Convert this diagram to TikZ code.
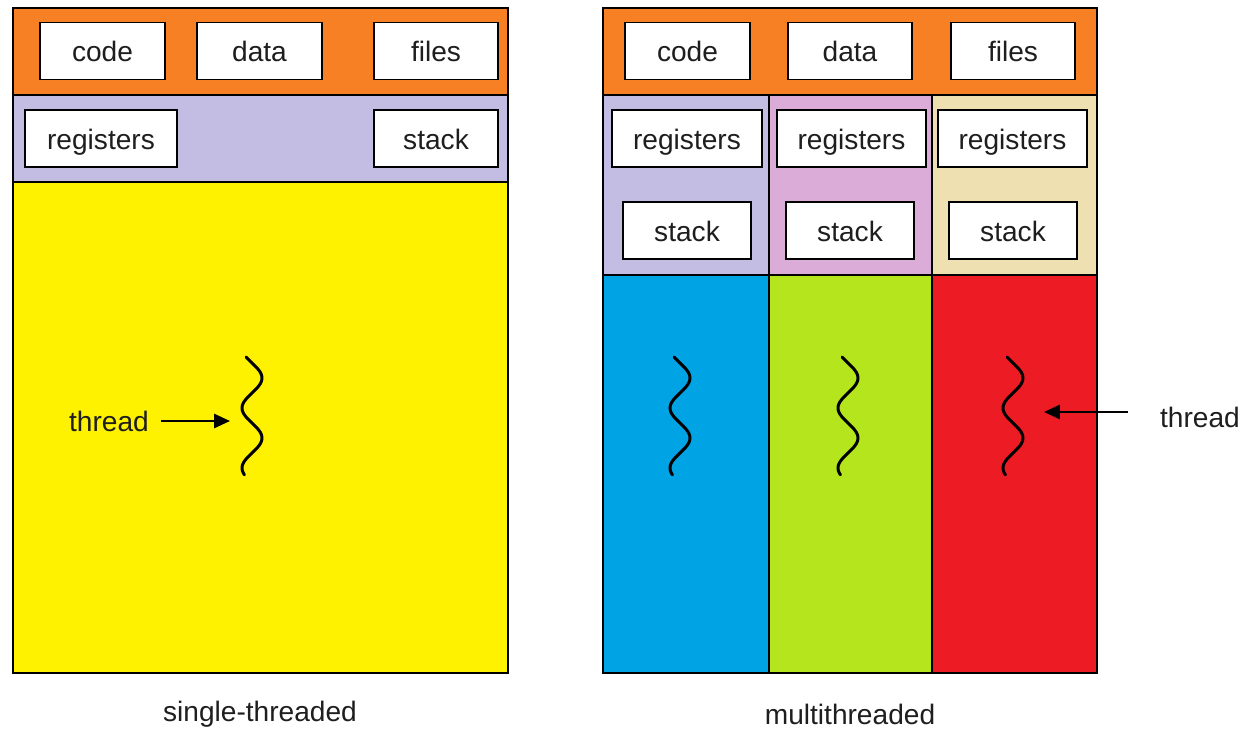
\documentclass[tikz,border=0pt]{standalone}
\usepackage{fontspec}
\setmainfont{Liberation Sans}
\usetikzlibrary{arrows.meta}
\definecolor{bandorange}{RGB}{247,128,37}
\definecolor{lavender}{RGB}{196,189,227}
\definecolor{sunyellow}{RGB}{255,242,0}
\definecolor{skyblue}{RGB}{0,163,228}
\definecolor{limegreen}{RGB}{181,230,29}
\definecolor{brightred}{RGB}{237,28,36}
\definecolor{mauve}{RGB}{220,172,216}
\definecolor{beige}{RGB}{238,224,177}
\definecolor{ink}{RGB}{30,30,30}
% squiggle of a thread: #1 = centre x, top at y = 357, length 118
\newcommand{\threadwave}[1]{%
  \draw[wave,domain=0:1.18,samples=90,variable=\t]
    plot ({#1+10*sin(600*\t-36)},{357+100*\t});}
\begin{document}
\begin{tikzpicture}[x=0.02cm,y=-0.02cm,
  region/.style={draw=black,line width=0.8pt},
  cell/.style={draw=black,fill=white,line width=1.1pt,inner sep=0pt,
    minimum height=57*0.02cm,minimum width=#1*0.02cm,
    text height=12pt,text depth=0pt,
    text=ink,font=\fontsize{16}{19}\selectfont},
  cell/.default=125,
  caption/.style={inner sep=0pt,text=ink,font=\fontsize{16}{19}\selectfont},
  wave/.style={line width=1.7pt,black,line cap=round,line join=round},
  pointer/.style={line width=1.3pt,-{Triangle[length=9pt,width=8pt]}}]
\useasboundingbox (0,0) rectangle (1248,731);

% ---------- single-threaded process ----------
\path[region,fill=bandorange] (13,8) rectangle (508,95);
\path[region,fill=lavender] (13,95) rectangle (508,182);
\path[region,fill=sunyellow] (13,182) rectangle (508,673);

\node[cell=125] (scode) at (102.5,51) {code};
\node[cell=125] (sdata) at (259.5,51) {data};
\node[cell=124] (sfiles) at (436,51) {files};
\node[cell=152] (sregs) at (101,138.5) {registers};
\node[cell=124] (sstack) at (436,138.5) {stack};

\threadwave{252}
\node[caption] (sthread) at (109,421) {thread};
\coordinate (swave) at (230,421);
\draw[pointer,shorten <=0.24cm] (sthread.east) -- (swave);

\node[caption] (slabel) at (260,714) {single-threaded};

% ---------- multithreaded process ----------
\path[region,fill=bandorange] (603,8) rectangle (1097,95);
\path[region,fill=lavender] (603,95) rectangle (769,275);
\path[region,fill=mauve] (769,95) rectangle (932,275);
\path[region,fill=beige] (932,95) rectangle (1097,275);
\path[region,fill=skyblue] (603,275) rectangle (769,673);
\path[region,fill=limegreen] (769,275) rectangle (932,673);
\path[region,fill=brightred] (932,275) rectangle (1097,673);

\node[cell=125] (mcode) at (687.5,51) {code};
\node[cell=124] (mdata) at (850,51) {data};
\node[cell=124] (mfiles) at (1013,51) {files};

\node[cell=150] (mregsA) at (687,138.5) {registers};
\node[cell=149] (mregsB) at (851.5,138.5) {registers};
\node[cell=149] (mregsC) at (1012.5,138.5) {registers};
\node[cell=128] (mstackA) at (687,230.5) {stack};
\node[cell=128] (mstackB) at (850,230.5) {stack};
\node[cell=128] (mstackC) at (1013,230.5) {stack};

\threadwave{680}
\threadwave{848}
\threadwave{1013}

\node[caption] (mthread) at (1200,417) {thread};
\coordinate (mwave) at (1044,412);
\draw[pointer,shorten <=0.64cm] (mthread.west |- mwave) -- (mwave);

\node[caption] (mlabel) at (850,714) {multithreaded};
\end{tikzpicture}
\end{document}
